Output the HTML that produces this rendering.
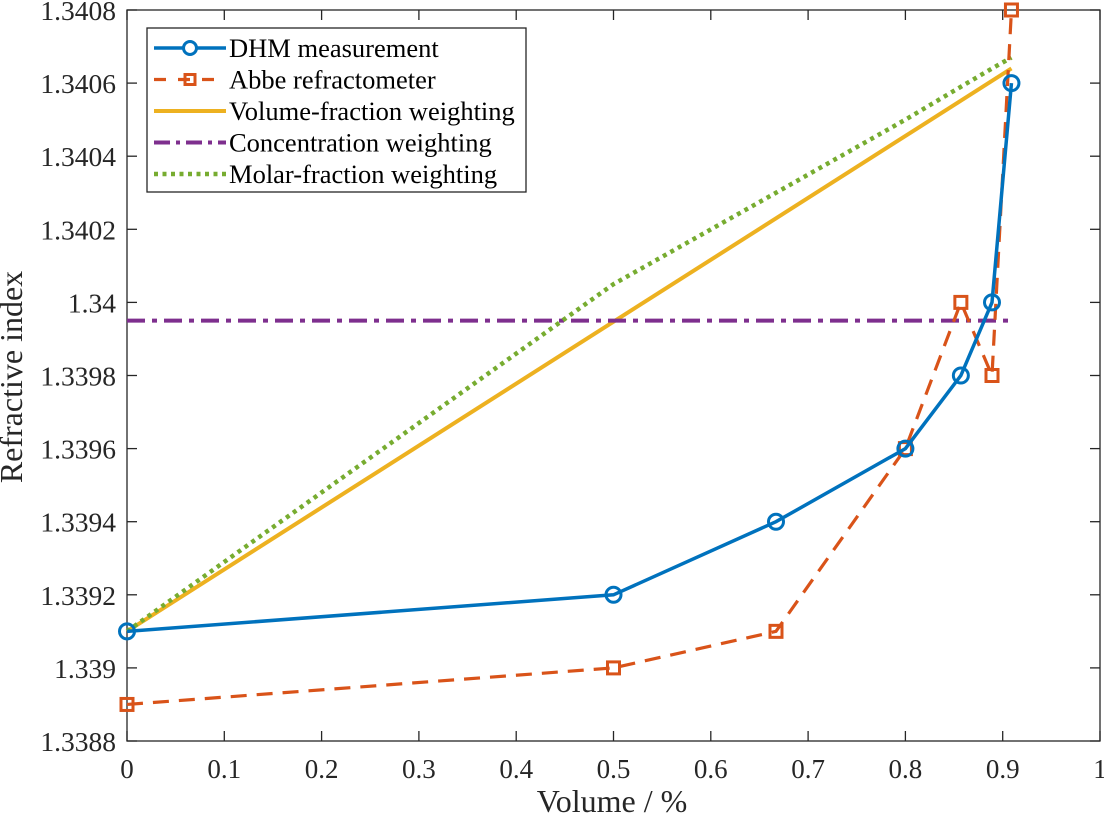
<!DOCTYPE html>
<html><head><meta charset="utf-8"><style>
body{margin:0;background:#fff;}
svg{display:block;font-family:"Liberation Serif",serif;}
</style></head><body>
<svg id="c" width="1104" height="818"></svg>
<script>
const xs=[0,0.5,0.667,0.8,0.857,0.889,0.909];
const dhm=[1.3391,1.3392,1.3394,1.3396,1.3398,1.3400,1.3406];
const abbe=[1.3389,1.3390,1.3391,1.3396,1.3400,1.3398,1.3408];
const volX=[0,0.909];
const volY=[1.3391,1.34064];
const concX=[0,0.909];
const concY=[1.33995,1.33995];
const molX=[0,0.5,0.667,0.8,0.857,0.889,0.909];
const molY=[1.3391,1.34005,1.3403,1.3405,1.34059,1.34064,1.34067];
const xTicks=[0,0.1,0.2,0.3,0.4,0.5,0.6,0.7,0.8,0.9,1];
const xTickLabels=["0","0.1","0.2","0.3","0.4","0.5","0.6","0.7","0.8","0.9","1"];
const yTicks=[1.3388,1.339,1.3392,1.3394,1.3396,1.3398,1.34,1.3402,1.3404,1.3406,1.3408];
const yTickLabels=["1.3388","1.339","1.3392","1.3394","1.3396","1.3398","1.34","1.3402","1.3404","1.3406","1.3408"];
const L=127,R=1100,T=10,B=741;
const X=v=>L+(R-L)*v;
const Y=v=>B-(B-T)*(v-1.3388)/0.002;
const svg=document.getElementById('c');
const NS='http://www.w3.org/2000/svg';
function mk(tag,at,parent){const e=document.createElementNS(NS,tag);for(const k in at)e.setAttribute(k,at[k]);(parent||svg).appendChild(e);return e;}
let e;
e=mk('rect',{x:L,y:T,width:R-L,height:B-T,fill:'none',stroke:'#262626','stroke-width':1.3});


xTicks.forEach((t,i)=>{
  mk('line',{x1:X(t),x2:X(t),y1:B,y2:B-10,stroke:'#262626','stroke-width':1.3});
  mk('line',{x1:X(t),x2:X(t),y1:T,y2:T+10,stroke:'#262626','stroke-width':1.3});
  e=mk('text',{x:X(t),y:B+37,'text-anchor':'middle','font-size':27,fill:'#262626'});
  e.textContent=xTickLabels[i];
  
  
});
yTicks.forEach((t,i)=>{
  mk('line',{x1:L,x2:L+10,y1:Y(t),y2:Y(t),stroke:'#262626','stroke-width':1.3});
  mk('line',{x1:R,x2:R-10,y1:Y(t),y2:Y(t),stroke:'#262626','stroke-width':1.3});
  e=mk('text',{x:L-11,y:Y(t)+10,'text-anchor':'end','font-size':27.5,fill:'#262626'});
  e.textContent=yTickLabels[i];
  
  
});
e=mk('text',{x:612,y:812,'text-anchor':'middle','font-size':32,fill:'#262626'});
e.textContent='Volume / %';


e=mk('text',{x:0,y:0,'text-anchor':'middle','font-size':32,fill:'#262626',transform:'translate(22,377) rotate(-90)'});
e.textContent='Refractive index';


function pts(a,b){return a.map((v,i)=>X(v)+','+Y(b[i])).join(' ');}
e=mk('polyline',{points:pts(volX,volY),fill:'none',stroke:'#EDB120','stroke-width':4});


e=mk('polyline',{points:pts(concX,concY),fill:'none',stroke:'#7E2F8E','stroke-width':4,'stroke-dasharray':'18,7,5,7'});


e=mk('polyline',{points:pts(molX,molY),fill:'none',stroke:'#77AC30','stroke-width':4.5,'stroke-dasharray':'4,4.5'});


e=mk('polyline',{points:pts(xs,abbe),fill:'none',stroke:'#D95319','stroke-width':3.2,'stroke-dasharray':'16,10'});


xs.forEach((v,i)=>{
  e=mk('rect',{x:X(v)-6,y:Y(abbe[i])-6,width:12,height:12,fill:'none',stroke:'#D95319','stroke-width':3});
  
  
});
e=mk('polyline',{points:pts(xs,dhm),fill:'none',stroke:'#0072BD','stroke-width':3.5});


xs.forEach((v,i)=>{
  e=mk('circle',{cx:X(v),cy:Y(dhm[i]),r:7.5,fill:'none',stroke:'#0072BD','stroke-width':3});
  
  
});
// legend
const lg=mk('g',{});


mk('rect',{x:147,y:28,width:379,height:164,fill:'#fff',stroke:'#262626','stroke-width':1.3},lg);
const names=['DHM measurement','Abbe refractometer','Volume-fraction weighting','Concentration weighting','Molar-fraction weighting'];
names.forEach((n,i)=>{
  const y=48+i*31.5;
  const g=mk('g',{},lg);
  
  
  if(i==0){mk('line',{x1:154,x2:226,y1:y,y2:y,stroke:'#0072BD','stroke-width':3.5},g);mk('circle',{cx:190,cy:y,r:6.5,fill:'#fff',stroke:'#0072BD','stroke-width':3},g);}
  if(i==1){mk('line',{x1:154,x2:226,y1:y,y2:y,stroke:'#D95319','stroke-width':3.2,'stroke-dasharray':'12,12'},g);mk('rect',{x:185,y:y-5,width:10,height:10,fill:'none',stroke:'#D95319','stroke-width':3},g);}
  if(i==2)mk('line',{x1:154,x2:226,y1:y,y2:y,stroke:'#EDB120','stroke-width':4},g);
  if(i==3)mk('line',{x1:154,x2:226,y1:y,y2:y,stroke:'#7E2F8E','stroke-width':4,'stroke-dasharray':'16,6,4,6'},g);
  if(i==4)mk('line',{x1:154,x2:226,y1:y,y2:y,stroke:'#77AC30','stroke-width':4.5,'stroke-dasharray':'4,4.5'},g);
  const t=mk('text',{x:229,y:y+9,'font-size':26.5,fill:'#000'},g);
  t.textContent=n;
});
</script>
</body></html>
